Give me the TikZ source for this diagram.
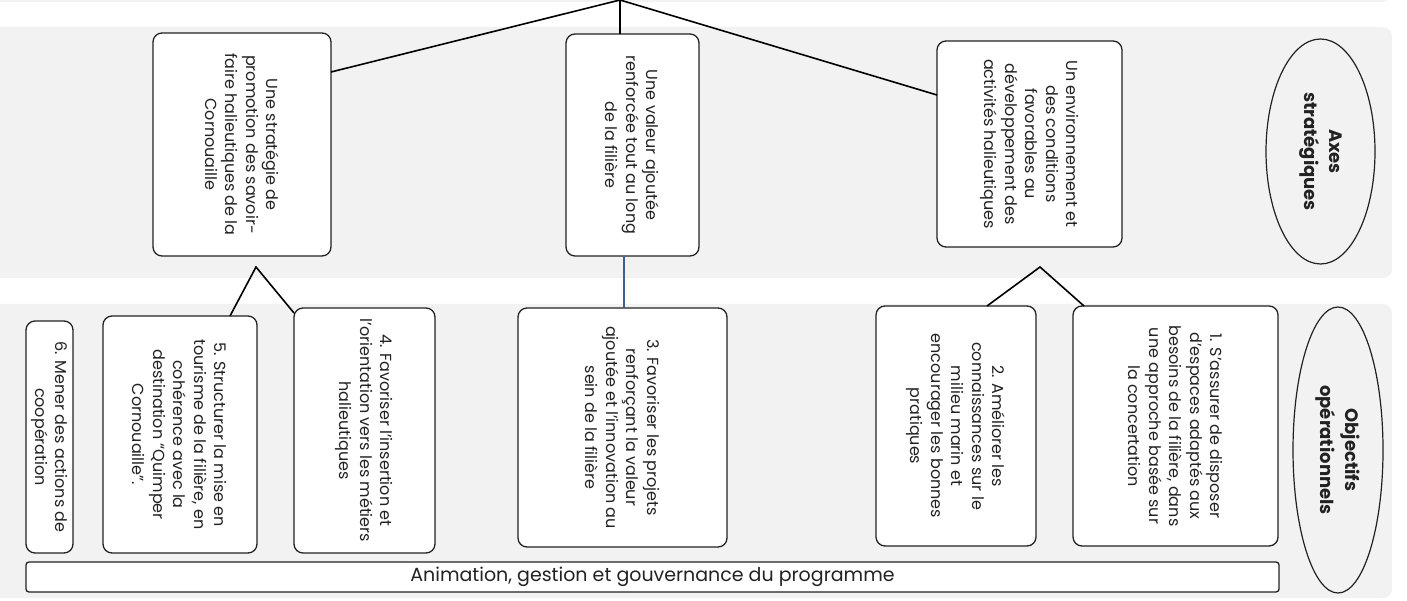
\documentclass[tikz,border=0pt]{standalone}
\usepackage{fontspec}
\setmainfont{Poppins}
\usetikzlibrary{calc,shapes.geometric}
\definecolor{bandc}{HTML}{F2F2F2}
\definecolor{ink}{HTML}{222222}
\definecolor{blueline}{HTML}{3F5F8F}
\begin{document}
\begin{tikzpicture}[x=1pt,y=-1pt,
  obox/.style={draw=ink, line width=1.3pt, rounded corners=9pt, fill=white, anchor=north west, inner sep=0pt, outer sep=0pt},
  vtext/.style={rotate=-90, align=center, font=\fontsize{16}{20.5}\selectfont, text=ink, inner sep=0pt},
  conn/.style={draw=black, line width=1.6pt},
  bandbg/.style={fill=bandc, rounded corners=9pt},
  lab/.style={ellipse, draw=ink, line width=1.2pt, inner sep=0pt, rotate=-90, align=center, text=ink, font=\fontsize{18}{25}\selectfont\bfseries}
]
\useasboundingbox (0,0) rectangle (1407,601);
\clip (0,0) rectangle (1407,601);
% bands
\fill[bandbg] (-20,-20) rectangle (1390,2);
\fill[bandbg] (-20,27) rectangle (1392,278);
\fill[bandbg] (-20,304) rectangle (1392,598);

% strategic axes
\node[obox, minimum width=178pt, minimum height=223pt] (boxA) at (153,33) {};
\node[obox, minimum width=133pt, minimum height=222pt] (boxB) at (566,34) {};
\node[obox, minimum width=185pt, minimum height=206pt] (boxC) at (937,41) {};
\node[vtext] (tA) at (boxA.center) {Une stratégie de\\promotion des savoir-\\faire halieutiques de la\\Cornouaille};
\node[vtext] (tB) at (boxB.center) {Une valeur ajoutée\\renforcée tout au long\\de la filière};
\node[vtext] (tC) at (boxC.center) {Un environnement et\\des conditions\\favorables au\\développement des\\activités halieutiques};

% operational objectives
\node[obox, minimum width=205pt, minimum height=240pt] (box1) at (1073,306) {};
\node[obox, minimum width=160pt, minimum height=240pt] (box2) at (876,306) {};
\node[obox, minimum width=209pt, minimum height=239pt] (box3) at (518,308) {};
\node[obox, minimum width=141pt, minimum height=245pt] (box4) at (294,308) {};
\node[obox, minimum width=154pt, minimum height=237pt] (box5) at (103,316) {};
\node[obox, minimum width=47pt, minimum height=232pt] (box6) at (26,321) {};
\node[vtext] (t1) at (box1.center) {1. S’assurer de disposer\\d’espaces adaptés aux\\besoins de la filière, dans\\une approche basée sur\\la concertation};
\node[vtext] (t2) at (box2.center) {2. Améliorer les\\connaissances sur le\\milieu marin et\\encourager les bonnes\\pratiques};
\node[vtext] (t3) at (box3.center) {3. Favoriser les projets\\renforçant la valeur\\ajoutée et l’innovation au\\sein de la filière};
\node[vtext] (t4) at (box4.center) {4. Favoriser l’insertion et\\l’orientation vers les métiers\\halieutiques};
\node[vtext] (t5) at (box5.center) {5. Structurer la mise en\\tourisme de la filière, en\\cohérence avec la\\destination “Quimper\\Cornouaille”.};
\node[vtext] (t6) at (box6.center) {6. Mener des actions de\\coopération};

% bottom bar
\node[obox, rounded corners=3pt, minimum width=1253pt, minimum height=30pt] (bar) at (26,562) {};
\node[text=ink, font=\fontsize{19}{22}\selectfont, inner sep=0pt] (tbar) at (bar.center) {Animation, gestion et gouvernance du programme};

% side labels
\node[lab, minimum width=225pt, minimum height=109pt] (axes) at (1320.5,151.5) {Axes\\stratégiques};
\node[lab, minimum width=286pt, minimum height=90pt] (objs) at (1338,450) {Objectifs\\opérationnels};

% connectors
\coordinate (apex) at (620,0);
\draw[conn] (apex) -- (boxA.east |- 0,72);
\draw[conn] (apex) -- (boxB.north -| apex);
\draw[conn] (apex) -- (boxC.west |- 0,95);
\coordinate (forkA) at (256,267);
\draw[conn] (box5.north -| 230,0) -- (forkA) -- (box4.west |- 0,313);
\draw[draw=blueline, line width=1.1pt] (boxB.south -| 624,0) -- (box3.north -| 624,0);
\coordinate (forkC) at (1040,267);
\draw[conn] (box2.north -| 987,0) -- (forkC) -- (box1.north -| 1084,0);
\end{tikzpicture}
\end{document}
